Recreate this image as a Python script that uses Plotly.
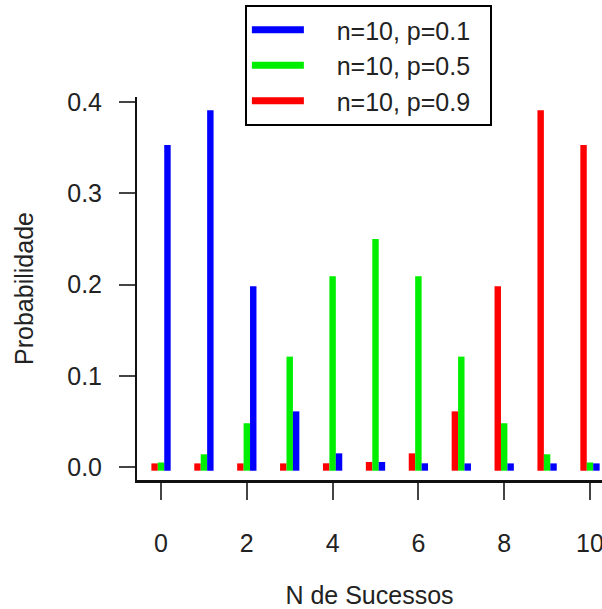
import plotly.graph_objects as go

# number of successes
sucessos = [0, 1, 2, 3, 4, 5, 6, 7, 8, 9, 10]

# probabilities (n=10)
p01 = [0.349, 0.387, 0.194, 0.057, 0.011, 0.0015, 0.0001, 0.0, 0.0, 0.0, 0.0]
p05 = [0.001, 0.010, 0.044, 0.117, 0.205, 0.246, 0.205, 0.117, 0.044, 0.010, 0.001]
p09 = [0.0, 0.0, 0.0, 0.0, 0.0001, 0.0015, 0.011, 0.057, 0.194, 0.387, 0.349]

nomes = ["n=10, p=0.9", "n=10, p=0.5", "n=10, p=0.1"]
cores = ["#ff0000", "#00ee00", "#0000ff"]

# R draws these as thick lines, so the ends stick out a little around the value
cap = 0.004

fig = go.Figure()
for i, (nome, cor, vals) in enumerate(zip(nomes, cores, [p09, p05, p01])):
    fig.add_trace(go.Bar(
        x=sucessos, y=[v + 2 * cap for v in vals], base=-cap,
        marker=dict(color=cor, line=dict(width=0)),
        showlegend=False, name=nome,
    ))
    # legend entry drawn as a line, like the R legend
    fig.add_trace(go.Scatter(
        x=[None], y=[None], mode="lines",
        name="\u00a0" * 4 + nome + "\u00a0" * 2,
        line=dict(color=cor, width=7),
    ))

fam = "Liberation Sans, Arial, sans-serif"
fnt = dict(family=fam, size=25, color="#222")

fig.update_layout(
    width=602, height=609,
    margin=dict(l=137, r=0, t=97, b=129, autoexpand=False),
    plot_bgcolor="white", paper_bgcolor="white",
    barmode="group", bargap=0.55, bargroupgap=0,
    font=fnt,
    legend=dict(
        x=0.232, y=1.24, xanchor="left", yanchor="top",
        traceorder="reversed", bordercolor="black", borderwidth=2,
        font=fnt, itemwidth=52,
    ),
)
fig.update_xaxes(
    range=[-0.56, 10.28], tickvals=[0, 2, 4, 6, 8, 10],
    showgrid=False, zeroline=False,
    showline=True, linecolor="#111", linewidth=3,
    ticks="outside", ticklen=17, tickwidth=1.5, tickcolor="#444",
    ticklabelstandoff=22, tickfont=fnt, ticklabeloverflow="allow",
    title=dict(text="N de Sucessos", standoff=31, font=fnt),
)
fig.update_yaxes(
    range=[-0.0142, 0.4055], tickvals=[0, 0.1, 0.2, 0.3, 0.4],
    tickformat=".1f",
    showgrid=False, zeroline=False,
    showline=True, linecolor="#111", linewidth=2,
    ticks="outside", ticklen=16, tickwidth=1.5, tickcolor="#444",
    ticklabelstandoff=12, tickfont=fnt,
    title=dict(text="Probabilidade", standoff=26, font=fnt),
)

# drop the page's default body margin so the figure fills the window
fig.write_html(
    "out.html",
    config={"displayModeBar": False},
    post_script="document.body.style.margin='0';document.body.style.overflow='hidden';",
)
